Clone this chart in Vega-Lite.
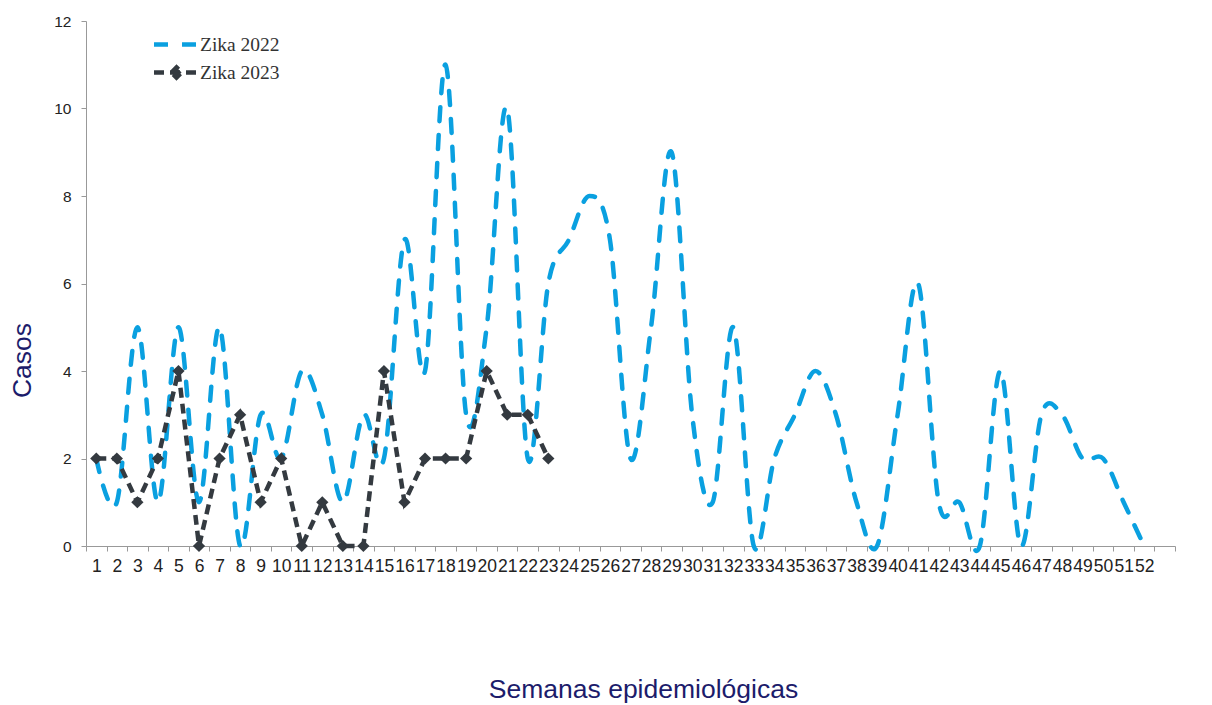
{
  "$schema": "https://vega.github.io/schema/vega-lite/v6.json",
  "width": 1089,
  "height": 525,
  "autosize": {"type": "none"},
  "padding": {"left": 86, "top": 21, "right": 37, "bottom": 159},
  "background": "white",
  "config": {"view": {"stroke": null}, "font": "Liberation Sans"},
  "data": {"values": [
    {"semana": 1, "serie": "Zika 2022", "casos": 2},
    {"semana": 2, "serie": "Zika 2022", "casos": 1},
    {"semana": 3, "serie": "Zika 2022", "casos": 5},
    {"semana": 4, "serie": "Zika 2022", "casos": 1},
    {"semana": 5, "serie": "Zika 2022", "casos": 5},
    {"semana": 6, "serie": "Zika 2022", "casos": 1},
    {"semana": 7, "serie": "Zika 2022", "casos": 5},
    {"semana": 8, "serie": "Zika 2022", "casos": 0},
    {"semana": 9, "serie": "Zika 2022", "casos": 3},
    {"semana": 10, "serie": "Zika 2022", "casos": 2},
    {"semana": 11, "serie": "Zika 2022", "casos": 4},
    {"semana": 12, "serie": "Zika 2022", "casos": 3},
    {"semana": 13, "serie": "Zika 2022", "casos": 1},
    {"semana": 14, "serie": "Zika 2022", "casos": 3},
    {"semana": 15, "serie": "Zika 2022", "casos": 2},
    {"semana": 16, "serie": "Zika 2022", "casos": 7},
    {"semana": 17, "serie": "Zika 2022", "casos": 4},
    {"semana": 18, "serie": "Zika 2022", "casos": 11},
    {"semana": 19, "serie": "Zika 2022", "casos": 3},
    {"semana": 20, "serie": "Zika 2022", "casos": 5},
    {"semana": 21, "serie": "Zika 2022", "casos": 10},
    {"semana": 22, "serie": "Zika 2022", "casos": 2},
    {"semana": 23, "serie": "Zika 2022", "casos": 6},
    {"semana": 24, "serie": "Zika 2022", "casos": 7},
    {"semana": 25, "serie": "Zika 2022", "casos": 8},
    {"semana": 26, "serie": "Zika 2022", "casos": 7},
    {"semana": 27, "serie": "Zika 2022", "casos": 2},
    {"semana": 28, "serie": "Zika 2022", "casos": 5},
    {"semana": 29, "serie": "Zika 2022", "casos": 9},
    {"semana": 30, "serie": "Zika 2022", "casos": 3},
    {"semana": 31, "serie": "Zika 2022", "casos": 1},
    {"semana": 32, "serie": "Zika 2022", "casos": 5},
    {"semana": 33, "serie": "Zika 2022", "casos": 0},
    {"semana": 34, "serie": "Zika 2022", "casos": 2},
    {"semana": 35, "serie": "Zika 2022", "casos": 3},
    {"semana": 36, "serie": "Zika 2022", "casos": 4},
    {"semana": 37, "serie": "Zika 2022", "casos": 3},
    {"semana": 38, "serie": "Zika 2022", "casos": 1},
    {"semana": 39, "serie": "Zika 2022", "casos": 0},
    {"semana": 40, "serie": "Zika 2022", "casos": 3},
    {"semana": 41, "serie": "Zika 2022", "casos": 6},
    {"semana": 42, "serie": "Zika 2022", "casos": 1},
    {"semana": 43, "serie": "Zika 2022", "casos": 1},
    {"semana": 44, "serie": "Zika 2022", "casos": 0},
    {"semana": 45, "serie": "Zika 2022", "casos": 4},
    {"semana": 46, "serie": "Zika 2022", "casos": 0},
    {"semana": 47, "serie": "Zika 2022", "casos": 3},
    {"semana": 48, "serie": "Zika 2022", "casos": 3},
    {"semana": 49, "serie": "Zika 2022", "casos": 2},
    {"semana": 50, "serie": "Zika 2022", "casos": 2},
    {"semana": 51, "serie": "Zika 2022", "casos": 1},
    {"semana": 52, "serie": "Zika 2022", "casos": 0},
    {"semana": 1, "serie": "Zika 2023", "casos": 2},
    {"semana": 2, "serie": "Zika 2023", "casos": 2},
    {"semana": 3, "serie": "Zika 2023", "casos": 1},
    {"semana": 4, "serie": "Zika 2023", "casos": 2},
    {"semana": 5, "serie": "Zika 2023", "casos": 4},
    {"semana": 6, "serie": "Zika 2023", "casos": 0},
    {"semana": 7, "serie": "Zika 2023", "casos": 2},
    {"semana": 8, "serie": "Zika 2023", "casos": 3},
    {"semana": 9, "serie": "Zika 2023", "casos": 1},
    {"semana": 10, "serie": "Zika 2023", "casos": 2},
    {"semana": 11, "serie": "Zika 2023", "casos": 0},
    {"semana": 12, "serie": "Zika 2023", "casos": 1},
    {"semana": 13, "serie": "Zika 2023", "casos": 0},
    {"semana": 14, "serie": "Zika 2023", "casos": 0},
    {"semana": 15, "serie": "Zika 2023", "casos": 4},
    {"semana": 16, "serie": "Zika 2023", "casos": 1},
    {"semana": 17, "serie": "Zika 2023", "casos": 2},
    {"semana": 18, "serie": "Zika 2023", "casos": 2},
    {"semana": 19, "serie": "Zika 2023", "casos": 2},
    {"semana": 20, "serie": "Zika 2023", "casos": 4},
    {"semana": 21, "serie": "Zika 2023", "casos": 3},
    {"semana": 22, "serie": "Zika 2023", "casos": 3},
    {"semana": 23, "serie": "Zika 2023", "casos": 2}
  ]},
  "encoding": {
    "x": {
      "field": "semana",
      "type": "ordinal",
      "scale": {"type": "band", "domain": [1,2,3,4,5,6,7,8,9,10,11,12,13,14,15,16,17,18,19,20,21,22,23,24,25,26,27,28,29,30,31,32,33,34,35,36,37,38,39,40,41,42,43,44,45,46,47,48,49,50,51,52,53], "paddingInner": 0, "paddingOuter": 0},
      "axis": {
        "title": "Semanas epidemiológicas",
        "labelAngle": 0,
        "labelExpr": "datum.value == 53 ? '' : datum.label",
        "tickBand": "extent",
        "labelOverlap": false,
        "labelFontSize": 17.5,
        "labelColor": "#222222",
        "labelPadding": 6,
        "tickSize": 5,
        "tickColor": "#999999",
        "domainColor": "#999999",
        "titleFontSize": 26.5,
        "titleFontWeight": "normal",
        "titleColor": "#1c1c6b",
        "titleX": 557,
        "titleY": 130,
        "titleBaseline": "top",
        "titleAlign": "center"
      }
    },
    "y": {
      "field": "casos",
      "type": "quantitative",
      "scale": {"domain": [0, 12], "nice": false},
      "axis": {
        "title": "Casos",
        "values": [0, 2, 4, 6, 8, 10, 12],
        "grid": false,
        "labelFontSize": 15.5,
        "labelColor": "#222222",
        "labelPadding": 10,
        "tickSize": 5,
        "tickColor": "#999999",
        "domainColor": "#999999",
        "titleFontSize": 26.5,
        "titleFontWeight": "normal",
        "titleColor": "#1c1c6b",
        "titleX": -64,
        "titleY": 339,
        "titleBaseline": "middle",
        "titleAlign": "center"
      }
    }
  },
  "layer": [
    {
      "transform": [{"filter": "datum.serie == 'Zika 2022'"}],
      "mark": {"type": "line", "interpolate": "cardinal", "strokeWidth": 4.5, "strokeCap": "round", "strokeDash": [14, 14], "color": "#0aa0e0"},
      "encoding": {}
    },
    {
      "transform": [{"filter": "datum.serie == 'Zika 2023'"}],
      "mark": {"type": "line", "interpolate": "linear", "strokeWidth": 4.5, "strokeCap": "butt", "strokeDash": [10, 6], "color": "#343a40"},
      "encoding": {}
    },
    {
      "transform": [{"filter": "datum.serie == 'Zika 2023'"}],
      "mark": {"type": "point", "shape": "diamond", "filled": true, "size": 150, "opacity": 1, "color": "#343a40"},
      "encoding": {}
    },
    {
      "transform": [{"filter": "datum.semana == 1"}],
      "mark": {"type": "line", "opacity": 0, "strokeWidth": 4.5},
      "encoding": {
        "color": {
          "field": "serie",
          "type": "nominal",
          "scale": {"domain": ["Zika 2022", "Zika 2023"], "range": ["#0aa0e0", "#343a40"]},
          "legend": {
            "title": null,
            "orient": "none",
            "legendX": 77,
            "legendY": 10,
            "padding": 0,
            "symbolType": "stroke",
            "symbolSize": 506,
            "symbolStrokeWidth": 4.5,
            "symbolOpacity": 1,
            "labelFont": "Liberation Serif",
            "labelFontSize": 19.5,
            "labelColor": "#333333",
            "labelOffset": 10,
            "rowPadding": 4,
            "encode": {
              "symbols": {
                "update": {
                  "shape": {"signal": "datum.value === 'Zika 2023' ? 'M-2,0H2M-0.45,0L0,-0.45L0.45,0L0,0.45Z' : 'M-2,0H2'"},
                  "fill": {"signal": "datum.value === 'Zika 2023' ? '#343a40' : 'transparent'"},
                  "strokeDash": {"signal": "datum.value === 'Zika 2023' ? [10, 6] : [14, 14]"},
                  "opacity": {"value": 1}
                }
              }
            }
          }
        }
      }
    }
  ]
}
